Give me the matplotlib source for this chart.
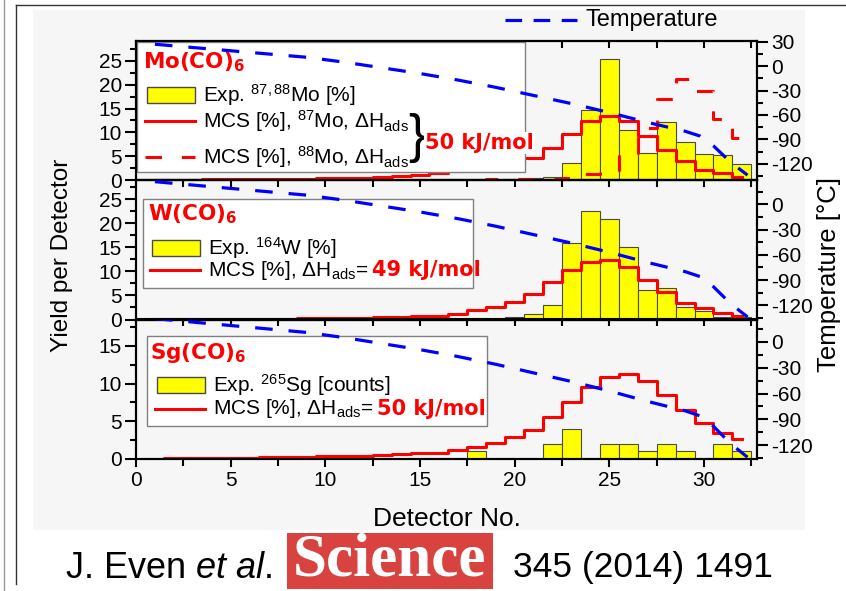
import numpy as np
import matplotlib
matplotlib.use('Agg')
from matplotlib import pyplot as plt
import matplotlib.ticker as mticker
import matplotlib.transforms as mtransforms
from matplotlib.patches import Rectangle
from matplotlib.lines import Line2D

plt.rcParams['font.family'] = ['Liberation Sans', 'DejaVu Sans']
plt.rcParams['mathtext.fontset'] = 'custom'
plt.rcParams['mathtext.rm'] = 'Liberation Sans'
plt.rcParams['mathtext.it'] = 'Liberation Sans:italic'
plt.rcParams['mathtext.bf'] = 'DejaVu Sans:bold'
plt.rcParams['axes.unicode_minus'] = False

# ---- data ------------------------------------------------------------
det = np.arange(1, 33)

# Mo(CO)6
mo_exp_det = [20, 21, 22, 23, 24, 25, 26, 27, 28, 29, 30, 31, 32]
mo_exp = [0.2, 0.5, 0.7, 3.6, 14.8, 25.5, 10.6, 5.7, 12.2, 8.0, 5.4, 5.2, 3.4]
mo87_mcs = [0.05, 0.07, 0.1, 0.12, 0.15, 0.18, 0.22, 0.26, 0.3, 0.35, 0.4, 0.5,
            0.6, 0.8, 1.1, 1.5, 1.9, 2.5, 3.3, 4.0, 4.7, 6.8, 9.6, 12.3,
            13.4, 12.3, 9.2, 6.4, 4.0, 2.2, 1.5, 0.7]
mo88_mcs = [0.0, 0.0, 0.0, 0.0, 0.0, 0.0, 0.0, 0.0, 0.0, 0.0, 0.0, 0.02,
            0.03, 0.04, 0.05, 0.06, 0.08, 0.1, 0.12, 0.15, 0.2, 0.3, 0.5, 1.2,
            2.0, 5.0, 11.0, 17.0, 21.3, 18.7, 12.8, 8.8]

# W(CO)6
w_exp_det = [16, 17, 18, 19, 20, 21, 22, 23, 24, 25, 26, 27, 28, 29, 30, 31, 32]
w_exp = [0.1, 0.1, 0.15, 0.2, 0.5, 1.2, 3.1, 15.8, 22.5, 20.8, 15.1, 6.2, 6.6,
         2.6, 1.7, 0.5, 0.5]
w_mcs = [0.05, 0.05, 0.08, 0.1, 0.12, 0.15, 0.18, 0.2, 0.25, 0.3, 0.35, 0.4,
         0.5, 0.6, 0.7, 0.8, 1.2, 1.9, 2.6, 3.6, 5.3, 7.8, 10.2, 11.9,
         12.4, 11.0, 8.3, 5.7, 3.4, 2.4, 1.3, 0.8]

# Sg(CO)6
sg_exp_det = [18, 22, 23, 25, 26, 27, 28, 29, 31, 32]
sg_exp = [1, 2, 4, 2, 2, 1, 2, 1, 2, 1]
sg_mcs = [0.05, 0.07, 0.1, 0.12, 0.15, 0.18, 0.2, 0.25, 0.3, 0.35, 0.4, 0.45,
          0.55, 0.65, 0.75, 0.85, 1.2, 1.55, 2.1, 2.9, 3.9, 5.6, 7.6, 9.5,
          10.9, 11.3, 10.3, 8.5, 6.5, 4.8, 3.5, 2.7]

# temperature gradient along the detector array
temp_x = [1, 3, 5, 7, 9, 11, 13, 15, 17, 19, 21, 23, 25, 27, 29, 29.8, 30.5, 31.4, 32.3]
temp_c = [27, 23, 19, 15, 11, 5, -2, -9, -17, -26, -36, -46, -57, -69, -80, -86, -98, -118, -134]

# ---- figure ------------------------------------------------------------
W, H = 846, 591
fig = plt.figure(figsize=(W / 100, H / 100), dpi=100)
# pixel coordinates (origin top left) -> figure
px = mtransforms.Affine2D().scale(1 / W, -1 / H).translate(0, 1) + fig.transFigure

fig.add_artist(Rectangle((33, 10), 772, 520, transform=px, fc='#f6f6f6', ec='none', zorder=-5))
fig.add_artist(Line2D([4, 4], [0, 591], transform=px, color='#999999', lw=1))
fig.add_artist(Line2D([16, 16], [5, 584], transform=px, color='#333333', lw=1))
fig.add_artist(Line2D([16, 846], [5, 5], transform=px, color='#333333', lw=1))

x_left, x_right = 136, 757


def ax_rect(top, bottom):
    return [x_left / W, 1 - bottom / H, (x_right - x_left) / W, (bottom - top) / H]


ax1 = fig.add_axes(ax_rect(41, 180))
ax2 = fig.add_axes(ax_rect(180, 319.5))
ax3 = fig.add_axes(ax_rect(319.5, 459))
axes = [ax1, ax2, ax3]

ylims = [(0, 29.2), (0, 29), (0, 18.5)]
tlims = [(-140, 31), (-137, 29), (-136, 26)]

YELLOW = '#ffff00'
RED = '#ff0000'
BLUE = '#0000ff'
EDGE = '#4a4a4a'
red_dash = (0, (5.4, 6.5))
blue_dash = (0, (5.5, 5))
TICK_FS = 15

ax1.bar(mo_exp_det, mo_exp, width=1, color=YELLOW, edgecolor=EDGE, lw=0.8, zorder=2)
ax1.step(det, mo87_mcs, where='mid', color=RED, lw=2.2, zorder=3)
ax1.step(det, mo88_mcs, where='mid', color=RED, lw=2.2, ls=red_dash, zorder=3)

ax2.bar(w_exp_det, w_exp, width=1, color=YELLOW, edgecolor=EDGE, lw=0.8, zorder=2)
ax2.step(det, w_mcs, where='mid', color=RED, lw=2.2, zorder=3)

ax3.bar(sg_exp_det, sg_exp, width=1, color=YELLOW, edgecolor=EDGE, lw=0.8, zorder=2)
ax3.step(det, sg_mcs, where='mid', color=RED, lw=2.2, zorder=3)

for i, ax in enumerate(axes):
    ax.set_facecolor('none')
    ax.set_xlim(0, 32.8)
    ax.set_ylim(*ylims[i])
    for s in ax.spines.values():
        s.set_linewidth(1.5)
    ax.xaxis.set_major_locator(mticker.MultipleLocator(5))
    ax.xaxis.set_minor_locator(mticker.MultipleLocator(2.5))
    ax.yaxis.set_major_locator(mticker.MultipleLocator(5))
    ax.yaxis.set_minor_locator(mticker.AutoMinorLocator(2))
    last = (i == 2)
    ax.tick_params(axis='x', which='both', direction='out', top=False,
                   bottom=last, labelbottom=last, width=1.5, labelsize=TICK_FS, pad=3)
    ax.tick_params(axis='x', which='major', length=6)
    ax.tick_params(axis='x', which='minor', length=5)
    ax.tick_params(axis='y', which='both', direction='out', right=False,
                   width=1.5, labelsize=TICK_FS, pad=2)
    ax.tick_params(axis='y', which='major', length=8)
    ax.tick_params(axis='y', which='minor', length=4)

    sec = ax.secondary_xaxis('top')
    sec.xaxis.set_major_locator(mticker.MultipleLocator(5))
    sec.xaxis.set_minor_locator(mticker.MultipleLocator(2.5))
    sec.tick_params(which='both', direction='in', length=5, width=1.5,
                    labeltop=False)
    sec.spines['top'].set_linewidth(1.5)

    tw = ax.twinx()
    tw.set_ylim(*tlims[i])
    tw.plot(temp_x, temp_c, color=BLUE, lw=2.3, ls=blue_dash, zorder=4)
    tw.yaxis.set_major_locator(mticker.MultipleLocator(30))
    tw.yaxis.set_minor_locator(mticker.MultipleLocator(15))
    tw.tick_params(axis='y', which='both', direction='out', width=1.5,
                   labelsize=TICK_FS, pad=2)
    tw.tick_params(axis='y', which='major', length=8)
    tw.tick_params(axis='y', which='minor', length=4)
    for s in tw.spines.values():
        s.set_linewidth(1.5)

ax3.set_xlabel('Detector No.', fontsize=19, labelpad=12)
fig.text(62, 255, 'Yield per Detector', transform=px, rotation=90,
         ha='center', va='center', fontsize=17.5)
fig.text(829, 274, 'Temperature [°C]', transform=px, rotation=90,
         ha='center', va='center', fontsize=18.5)

# ---- hand-made legends -------------------------------------------------
LEG = dict(transform=px, clip_on=False, zorder=10)
TXT = dict(transform=px, clip_on=False, zorder=11, va='center', fontsize=15)
BOLD = dict(transform=px, clip_on=False, zorder=11, va='center', fontsize=15,
            color=RED, family='DejaVu Sans', fontweight='bold')


def box(ax, x, y, w, h):
    ax.add_artist(Rectangle((x, y), w, h, fc='white', ec='#808080', lw=1, **LEG))


def swatch(ax, x, y):
    ax.add_artist(Rectangle((x, y - 8), 48, 16, fc=YELLOW, ec=EDGE, lw=1, **LEG))


def redline(ax, x, y, ls='-'):
    ax.add_artist(Line2D([x, x + 50], [y, y], color=RED, lw=2.2, ls=ls, **LEG))


# Mo
box(ax1, 137, 42, 388, 130)
ax1.text(143, 62, r'Mo(CO)$_{\mathbf{6}}$', **dict(BOLD, fontsize=15.5))
swatch(ax1, 147, 95)
ax1.text(203, 95, r'Exp. $^{87,88}$Mo [%]', **TXT)
redline(ax1, 145, 121)
ax1.text(203, 121, r'MCS [%], $^{87}$Mo, ΔH$_{\mathrm{ads}}$', **TXT)
redline(ax1, 145, 157, ls=red_dash)
ax1.text(203, 157, r'MCS [%], $^{88}$Mo, ΔH$_{\mathrm{ads}}$', **TXT)
ax1.text(408, 138, '}', transform=px, clip_on=False, zorder=11, va='center',
         fontsize=38)
ax1.text(425, 143, '50 kJ/mol', bbox=dict(fc='white', ec='none', pad=1), **BOLD)

# W
box(ax2, 143, 199, 330, 89)
ax2.text(148, 214, r'W(CO)$_{\mathbf{6}}$', **dict(BOLD, fontsize=15.5))
swatch(ax2, 152, 248)
ax2.text(208, 248, r'Exp. $^{164}$W [%]', **TXT)
redline(ax2, 150, 270)
ax2.text(208, 270, r'MCS [%], ΔH$_{\mathrm{ads}}$=', **TXT)
ax2.text(372, 270, '49 kJ/mol', **BOLD)

# Sg
box(ax3, 147, 336, 340, 90)
ax3.text(150, 353, r'Sg(CO)$_{\mathbf{6}}$', **dict(BOLD, fontsize=15.5))
swatch(ax3, 157, 385)
ax3.text(213, 385, r'Exp. $^{265}$Sg [counts]', **TXT)
redline(ax3, 155, 409)
ax3.text(213, 409, r'MCS [%], ΔH$_{\mathrm{ads}}$=', **TXT)
ax3.text(377, 409, '50 kJ/mol', **BOLD)

# temperature legend at the top
fig.add_artist(Line2D([505, 577], [20, 20], transform=px, color=BLUE, lw=2.3,
                      ls=(0, (5.2, 3.6))))
fig.text(585, 20, 'Temperature', transform=px, va='center', fontsize=17)

# ---- citation ------------------------------------------------------------
fig.text(65, 568, r'J. Even $\mathit{et\ al}$.', transform=px, va='center', fontsize=26)
fig.add_artist(Rectangle((287, 533), 206, 56, transform=px, fc='#d8433f', ec='none'))
fig.text(390, 561, 'Science', transform=px, ha='center', va='center', color='white',
         family='Liberation Serif', fontweight='bold', fontsize=44)
fig.text(513, 568, '345 (2014) 1491', transform=px, va='center', fontsize=25.5)

fig.savefig('out.png', dpi=100)
